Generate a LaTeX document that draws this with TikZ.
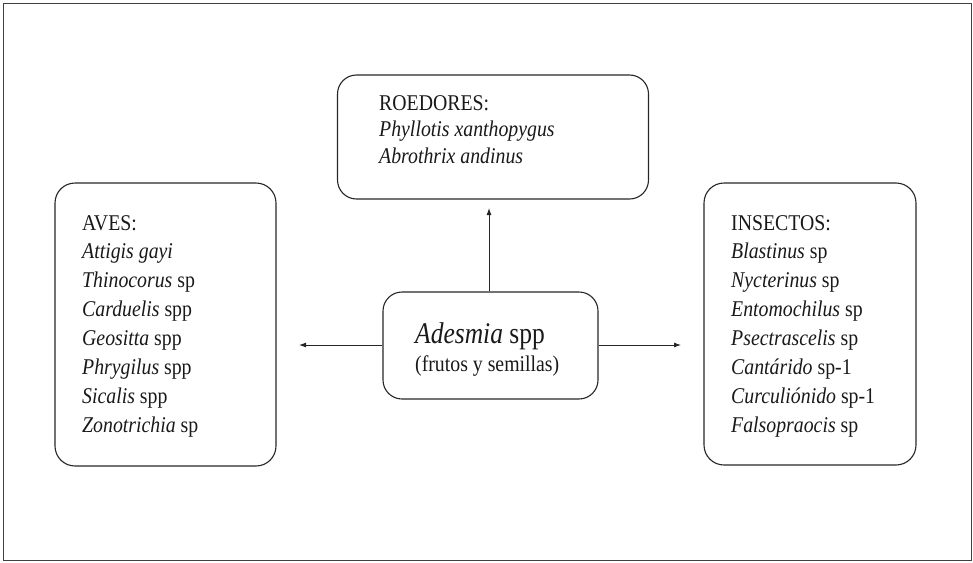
\documentclass[tikz,border=0pt]{standalone}
\usepackage{fontspec}
\setmainfont{Liberation Serif}
\usetikzlibrary{arrows.meta}
\newcommand{\cnd}[1]{\scalebox{0.88}[1]{#1}}
\begin{document}
\begin{tikzpicture}[x=1pt,y=-1pt,
  box/.style={draw=black!85, line width=1.1pt, rounded corners=20pt},
  txt/.style={anchor=base west, inner sep=0pt, font=\fontsize{22.5}{27}\selectfont, text=black!90},
  conn/.style={draw=black!85, line width=0.9pt, -{Latex[length=7pt,width=5pt]}}]
\useasboundingbox (0,0) rectangle (973,562);
\draw[draw=black!75, line width=1.6pt] (3.5,3.5) rectangle (971.5,560.5);
% boxes
\node[box, minimum width=311pt, minimum height=124pt, inner sep=0pt, rounded corners=19pt] (roe) at (493,137) {};
\node[box, minimum width=221pt, minimum height=283pt, inner sep=0pt] (ave) at (165.5,324.5) {};
\node[box, minimum width=212pt, minimum height=282pt, inner sep=0pt] (ins) at (810,324) {};
\node[box, minimum width=215pt, minimum height=107pt, inner sep=0pt, rounded corners=19pt] (ade) at (490.5,345.5) {};
% center text
\node[anchor=base west, inner sep=0pt, font=\fontsize{30}{36}\selectfont, text=black!90] (adt) at (415,343) {\scalebox{0.85}[1]{\textit{Adesmia} spp}};
\node[txt] (adf) at (415,371) {\cnd{(frutos y semillas)}};
% roedores
\node[txt] (r0) at (379,110) {\cnd{ROEDORES:}};
\node[txt] (r1) at (379,136.5) {\cnd{\textit{Phyllotis xanthopygus}}};
\node[txt] (r2) at (379,163) {\cnd{\textit{Abrothrix andinus}}};
% aves
\foreach \t [count=\i from 0] in {AVES:, \textit{Attigis gayi}, \textit{Thinocorus} sp, \textit{Carduelis} spp, \textit{Geositta} spp, \textit{Phrygilus} spp, \textit{Sicalis} spp, \textit{Zonotrichia} sp}
  \node[txt] (a\i) at (82,230+28.9*\i) {\cnd{\t}};
% insectos
\foreach \t [count=\i from 0] in {INSECTOS:, \textit{Blastinus} sp, \textit{Nycterinus} sp, \textit{Entomochilus} sp, \textit{Psectrascelis} sp, \textit{Cantárido} sp-1, \textit{Curculiónido} sp-1, \textit{Falsopraocis} sp}
  \node[txt] (n\i) at (731,230+28.9*\i) {\cnd{\t}};
% connectors
\coordinate (up) at (489,208);
\coordinate (lf) at (299,345);
\coordinate (rt) at (681,345);
\draw[conn] (ade.north -| up) -- (up);
\draw[conn] (ade.west |- lf) -- (lf);
\draw[conn] (ade.east |- rt) -- (rt);
\end{tikzpicture}
\end{document}
